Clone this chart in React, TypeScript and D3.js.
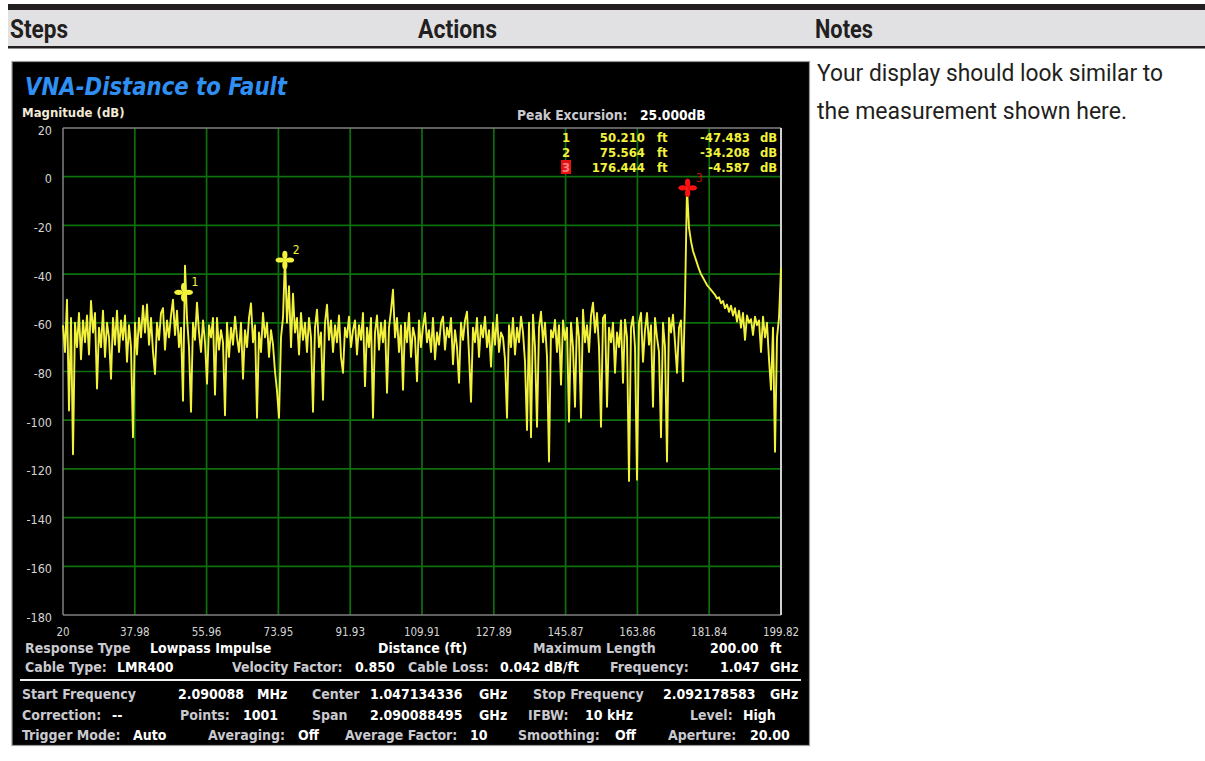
import React from 'react';
import * as d3 from 'd3';

// ---------- data ----------
const X_TICKS = [20, 37.98, 55.96, 73.95, 91.93, 109.91, 127.89, 145.87, 163.86, 181.84, 199.82];
const Y_TICKS = [20, 0, -20, -40, -60, -80, -100, -120, -140, -160, -180];
const DIST_START = 20;
const DIST_STOP = 199.82;

// trace magnitude (dB), evenly sampled from DIST_START to DIST_STOP
const TRACE_DB = [
  -61, -72, -50.5, -96, -58, -114, -60, -70, -56, -75, -59, -68, -57, -73, -51, -64, -56, -87, -62, -70,
  -55, -74, -60, -66, -83, -58, -69, -55, -72, -59, -67, -57, -76, -61, -70, -107, -60, -73, -58, -66,
  -53, -64, -52.5, -69, -58, -72, -81, -60, -67, -56, -54, -71, -59, -66, -57, -50.5, -65, -55, -70, -62,
  -92, -36.5, -58, -70, -96.5, -60, -67, -51.7, -64, -72, -59, -68, -85, -61, -66, -58, -89.5, -58, -71, -63,
  -68, -98, -60, -74, -62, -69, -57.5, -66, -72, -60, -83, -63, -70, -58, -52, -68, -61, -99, -64, -72,
  -56, -66, -60, -74, -63, -69, -80, -88, -99, -66, -58, -33, -60, -45, -70, -48, -64, -58, -73, -56,
  -67, -60, -72, -58, -66, -96.5, -62, -54.6, -70, -64, -91.6, -60, -52.6, -67, -59, -72, -61, -68, -57, -74,
  -80.5, -62, -66, -57.5, -70, -63, -59, -73, -61, -67, -56, -86, -62, -70, -58, -99, -64, -57, -71, -60,
  -68, -59, -88.7, -62, -55, -46.4, -66, -58, -72, -61, -87.5, -60, -68, -56, -74, -62, -66, -84, -59, -70,
  -61.6, -56, -68, -63, -72, -58, -75, -64, -69, -60, -57.5, -71, -62, -66, -58, -77, -63, -70, -84.6, -60,
  -67, -59, -55.4, -73, -92.4, -62, -68, -58, -74, -61, -66, -57.5, -70, -63, -78, -60, -69, -56.7, -72, -64,
  -66, -75, -99, -61, -70, -58, -73, -62, -68, -57.5, -64, -76, -104, -60, -107, -56.7, -70, -102.7, -62, -55.4,
  -68, -60, -74, -117, -63, -66, -58.8, -72, -61, -85.4, -59, -67, -62, -100.6, -60, -70, -94.5, -58, -66, -99,
  -54.6, -68, -61, -72, -57, -51.7, -64, -56, -70, -102.7, -58, -56.7, -94.5, -62, -68, -60, -80.5, -64, -70, -59,
  -84.6, -58.7, -66, -125, -62, -57.5, -70, -124.4, -60, -55.9, -76, -63, -56, -69, -61, -94.5, -58, -66, -72, -107,
  -60, -70, -117, -58, -64, -56.7, -68, -80.5, -62, -59, -84, -50.5, -4.6, -21, -26.5, -30.5, -33, -35.5, -38, -40,
  -41.5, -43, -44.5, -45.5, -46.5, -47.5, -48.5, -50, -49.5, -52, -51, -54, -52.5, -55.5, -53, -57, -54, -59.5, -55, -62,
  -56, -67, -57, -60, -58.5, -65, -57.5, -61, -59, -72, -57.5, -66, -60, -75, -87.5, -62, -113, -66, -58, -37.4,
];

const MARKER_IDS = ['1', '2', '3'];
const MARKER_DIST = [50.21, 75.564, 176.444];
const MARKER_DB = [-47.483, -34.208, -4.587];
const MARKER_DIST_TEXT = ['50.210', '75.564', '176.444'];
const MARKER_DB_TEXT = ['-47.483', '-34.208', '-4.587'];

// ---------- styling ----------
const UI_FONT = '"DejaVu Sans Condensed", "DejaVu Sans", sans-serif';
const LABEL = '#c9c9cf';
const VALUE = '#ffffff';
const YELLOW = '#f2f23c';

type Item = [string, number, boolean];
const INFO_ROWS: { y: number; items: Item[] }[] = [
  { y: 648, items: [['Response Type', 25, false], ['Lowpass Impulse', 150, true], ['Distance (ft)', 378, true], ['Maximum Length', 533, false], ['200.00', 710, true], ['ft', 770, true]] },
  { y: 667, items: [['Cable Type:', 25, false], ['LMR400', 117, true], ['Velocity Factor:', 232, false], ['0.850', 355, true], ['Cable Loss:', 408, false], ['0.042 dB/ft', 500, true], ['Frequency:', 610, false], ['1.047', 720, true], ['GHz', 770, true]] },
  { y: 694, items: [['Start Frequency', 22, false], ['2.090088', 178, true], ['MHz', 257, true], ['Center', 312, false], ['1.047134336', 370, true], ['GHz', 479, true], ['Stop Frequency', 533, false], ['2.092178583', 663, true], ['GHz', 770, true]] },
  { y: 715, items: [['Correction:', 22, false], ['--', 112, true], ['Points:', 180, false], ['1001', 243, true], ['Span', 312, false], ['2.090088495', 370, true], ['GHz', 479, true], ['IFBW:', 528, false], ['10 kHz', 585, true], ['Level:', 690, false], ['High', 743, true]] },
  { y: 735, items: [['Trigger Mode:', 22, false], ['Auto', 133, true], ['Averaging:', 208, false], ['Off', 298, true], ['Average Factor:', 345, false], ['10', 470, true], ['Smoothing:', 518, false], ['Off', 615, true], ['Aperture:', 668, false], ['20.00', 750, true]] },
];

function Marker({ x, y, color }: { x: number; y: number; color: string }) {
  return (
    <g transform={`translate(${x},${y})`}>
      <line x1={-9} x2={9} y1={0} y2={0} stroke={color} strokeWidth={1.2} />
      <line x1={0} x2={0} y1={-9} y2={9} stroke={color} strokeWidth={1.2} />
      <ellipse cx={-5} cy={0} rx={4.2} ry={2.6} fill={color} />
      <ellipse cx={5} cy={0} rx={4.2} ry={2.6} fill={color} />
      <ellipse cx={0} cy={-5} rx={2.6} ry={4.2} fill={color} />
      <ellipse cx={0} cy={5} rx={2.6} ry={4.2} fill={color} />
    </g>
  );
}

export default function App() {
  const W = 1205, H = 761;
  const x = d3.scaleLinear().domain([DIST_START, DIST_STOP]).range([63, 781]);
  const y = d3.scaleLinear().domain([-180, 20]).range([615, 128]);
  const n = TRACE_DB.length;
  const step = (DIST_STOP - DIST_START) / (n - 1);
  const pts: [number, number][] = TRACE_DB.map((v, i) => [DIST_START + i * step, v]);
  const line = d3.line<[number, number]>().x(d => x(d[0])).y(d => y(d[1]));
  const markerColors = [YELLOW, YELLOW, '#ff1010'];

  return (
    <svg width={W} height={H} style={{ position: 'absolute', left: 0, top: 0, display: 'block', background: '#fff' }}>
      {/* document table header */}
      <rect x={8} y={4} width={W - 8} height={6} fill="#231f20" />
      <rect x={8} y={10} width={W - 8} height={36} fill="#e1e1e3" />
      <rect x={8} y={46} width={W - 8} height={2.5} fill="#231f20" />
      <text x={10} y={38} fontFamily="Roboto, sans-serif" fontWeight={700} fontSize={25} fill="#231f20" textLength={58} lengthAdjust="spacingAndGlyphs">Steps</text>
      <text x={418} y={38} fontFamily="Roboto, sans-serif" fontWeight={700} fontSize={25} fill="#231f20" textLength={79} lengthAdjust="spacingAndGlyphs">Actions</text>
      <text x={815} y={38} fontFamily="Roboto, sans-serif" fontWeight={700} fontSize={25} fill="#231f20" textLength={58} lengthAdjust="spacingAndGlyphs">Notes</text>

      {/* notes text */}
      <text x={817} y={81} fontFamily="Roboto, sans-serif" fontSize={23} fill="#231f20" textLength={346} lengthAdjust="spacingAndGlyphs">Your display should look similar to</text>
      <text x={817} y={119} fontFamily="Roboto, sans-serif" fontSize={23} fill="#231f20" textLength={310} lengthAdjust="spacingAndGlyphs">the measurement shown here.</text>

      {/* instrument screenshot */}
      <rect x={12} y={61.5} width={797.5} height={684} fill="#000" stroke="#9a9a9a" strokeWidth={1.2} />
      <text x={25} y={95} fontFamily={UI_FONT} fontWeight={700} fontStyle="italic" fontSize={25} fill="#2f8ff2" textLength={262} lengthAdjust="spacingAndGlyphs">VNA-Distance to Fault</text>
      <text x={22} y={112} dominantBaseline="central" fontFamily={UI_FONT} fontWeight={700} fontSize={13} fill="#f3ead8">Magnitude (dB)</text>

      {/* peak excursion */}
      <text x={517} y={115} dominantBaseline="central" fontFamily={UI_FONT} fontWeight={700} fontSize={13.7} fill={LABEL}>Peak Excursion:</text>
      <text x={640} y={115} dominantBaseline="central" fontFamily={UI_FONT} fontWeight={700} fontSize={13.7} fill={VALUE}>25.000dB</text>

      {/* grid */}
      {X_TICKS.slice(1, -1).map(t => (
        <line key={'gx' + t} x1={x(t)} x2={x(t)} y1={128} y2={615} stroke="#0d700d" strokeWidth={1.7} />
      ))}
      {Y_TICKS.slice(1, -1).map(t => (
        <line key={'gy' + t} x1={63} x2={781} y1={y(t)} y2={y(t)} stroke="#0d700d" strokeWidth={1.7} />
      ))}
      {/* frame */}
      <line x1={63} x2={781} y1={128} y2={128} stroke="#808080" strokeWidth={1.4} />
      <line x1={63} x2={781} y1={615} y2={615} stroke="#808080" strokeWidth={1.4} />
      <line x1={63} x2={63} y1={128} y2={615} stroke="#8a8a8a" strokeWidth={1.4} />
      <line x1={781} x2={781} y1={128} y2={615} stroke="#d0d0d0" strokeWidth={2} />

      {/* axis labels */}
      {Y_TICKS.map(t => (
        <text key={'yl' + t} x={52} y={y(t) + 2} textAnchor="end" dominantBaseline="central" fontFamily={UI_FONT} fontSize={12.5} fill="#d4d4d4">{t}</text>
      ))}
      {X_TICKS.map(t => (
        <text key={'xl' + t} x={x(t)} y={632} textAnchor="middle" dominantBaseline="central" fontFamily={UI_FONT} fontSize={11.5} fill="#d4d4d4">{t.toFixed(2).replace(/\.00$/, '')}</text>
      ))}

      {/* trace */}
      <path d={line(pts) || ''} fill="none" stroke={YELLOW} strokeWidth={1.9} strokeLinejoin="round" />

      {/* markers */}
      {MARKER_IDS.map((id, i) => (
        <g key={'m' + id}>
          <Marker x={x(MARKER_DIST[i])} y={y(MARKER_DB[i])} color={markerColors[i]} />
          <text x={x(MARKER_DIST[i]) + 8} y={y(MARKER_DB[i]) - 10} dominantBaseline="central" fontFamily={UI_FONT} fontSize={12} fill={i === 2 ? '#c01010' : YELLOW}>{id}</text>
        </g>
      ))}

      {/* marker readout table */}
      {MARKER_IDS.map((id, i) => {
        const ry = 137 + i * 15;
        return (
          <g key={'r' + id} fontFamily={UI_FONT} fontWeight={700} fontSize={13} fill={YELLOW}>
            {i === 2 && <rect x={561} y={ry - 7} width={10} height={14} fill="#e81212" />}
            <text x={566} y={ry} textAnchor="middle" dominantBaseline="central" fill={i === 2 ? '#ff8080' : YELLOW}>{id}</text>
            <text x={645} y={ry} textAnchor="end" dominantBaseline="central">{MARKER_DIST_TEXT[i]}</text>
            <text x={657} y={ry} dominantBaseline="central">ft</text>
            <text x={750} y={ry} textAnchor="end" dominantBaseline="central">{MARKER_DB_TEXT[i]}</text>
            <text x={760} y={ry} dominantBaseline="central">dB</text>
          </g>
        );
      })}

      {/* info panel */}
      <line x1={20} x2={801} y1={680} y2={680} stroke="#f2f2f2" strokeWidth={2.2} />
      {INFO_ROWS.map(row => row.items.map(([txt, tx, val], j) => (
        <text key={row.y + '-' + j} x={tx} y={row.y} dominantBaseline="central" fontFamily={UI_FONT} fontWeight={700} fontSize={14} fill={val ? VALUE : LABEL}>{txt}</text>
      )))}
    </svg>
  );
}
